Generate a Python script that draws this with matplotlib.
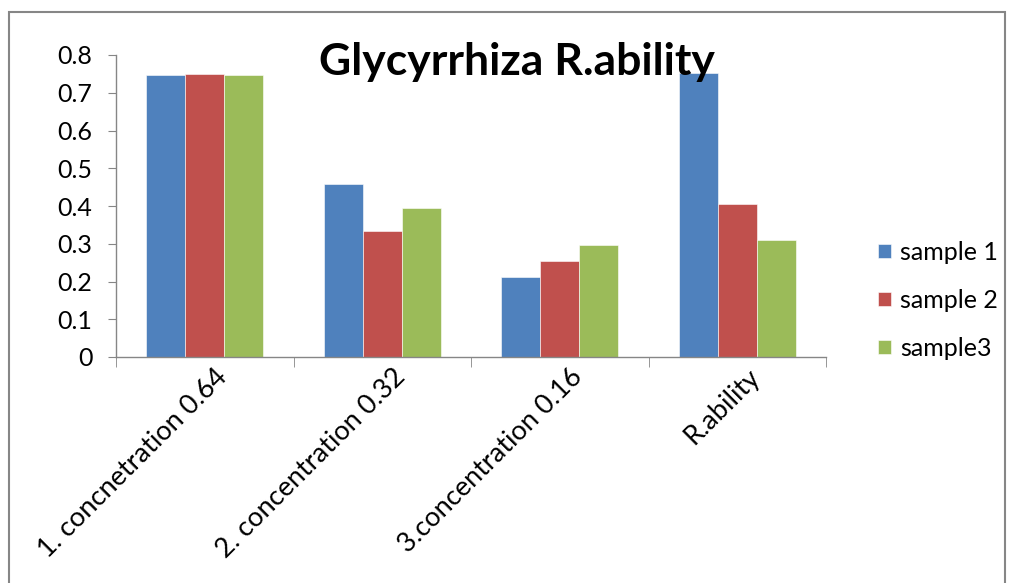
"""
Glycyrrhiza R.ability grouped bar chart.
"""

import matplotlib
matplotlib.use("Agg")
import matplotlib.pyplot as plt
import numpy as np
from matplotlib.patches import Rectangle
from matplotlib.transforms import ScaledTranslation

categories = ["1. concnetration 0.64", "2. concentration 0.32",
              "3.concentration 0.16", "R.ability"]
sample_1 = [0.746, 0.458, 0.213, 0.752]
sample_2 = [0.750, 0.335, 0.254, 0.404]
sample_3 = [0.746, 0.396, 0.298, 0.311]
series_names = ["sample 1", "sample 2", "sample3"]
y_ticks = [0, 0.1, 0.2, 0.3, 0.4, 0.5, 0.6, 0.7, 0.8]
y_tick_labels = ["0", "0.1", "0.2", "0.3", "0.4", "0.5", "0.6", "0.7", "0.8"]

colors = ["#4F81BD", "#C0504D", "#9BBB59"]
axis_grey = "#868686"

plt.rcParams["font.family"] = ["Lato", "DejaVu Sans"]

fig = plt.figure(figsize=(10.11, 5.83), dpi=100)
ax = fig.add_axes([116 / 1011, 1 - 357 / 583, 710 / 1011, 302 / 583])

x = np.arange(len(categories))
width = 0.22
for i, (vals, name) in enumerate(zip([sample_1, sample_2, sample_3], series_names)):
    ax.bar(x + (i - 1) * width, vals, width, color=colors[i], label=name,
           edgecolor="white", linewidth=0.4)

ax.set_xlim(-0.5, len(categories) - 0.5)
ax.set_ylim(0, 0.8)

ax.set_yticks(y_ticks)
ax.set_yticklabels(y_tick_labels, fontsize=18)
ax.tick_params(axis="y", direction="out", length=6, color=axis_grey, pad=11)

# tick marks sit between categories, labels at the centres
ax.set_xticks(np.arange(-0.5, len(categories)), minor=True)
ax.set_xticks(x)
ax.set_xticklabels(categories, fontsize=19.5, rotation=45, ha="right",
                   va="top", rotation_mode="anchor")
ax.tick_params(axis="x", which="major", length=0, pad=5)
ax.tick_params(axis="x", which="minor", length=7, color=axis_grey)
for lab in ax.get_xticklabels():
    lab.set_transform(lab.get_transform() + ScaledTranslation(0.1, 0, fig.dpi_scale_trans))

for side in ["top", "right"]:
    ax.spines[side].set_visible(False)
for side in ["left", "bottom"]:
    ax.spines[side].set_color(axis_grey)
    ax.spines[side].set_linewidth(1)

fig.text(517 / 1011, 1 - 62 / 583, "Glycyrrhiza R.ability", fontsize=32,
         fontweight="bold", ha="center", va="center")

ax.legend(loc="center left", bbox_to_anchor=(878 / 1011, 1 - 300 / 583),
          bbox_transform=fig.transFigure, frameon=False, fontsize=18,
          handlelength=0.5, handleheight=0.5, handletextpad=0.4,
          labelspacing=1.0, borderaxespad=0, borderpad=0)

fig.patches.append(Rectangle((9 / 1011, -0.05), 996 / 1011, 1.05 - 12 / 583,
                             transform=fig.transFigure, fill=False,
                             edgecolor=axis_grey, linewidth=1.5, clip_on=False))

fig.savefig("out.png", dpi=100)
